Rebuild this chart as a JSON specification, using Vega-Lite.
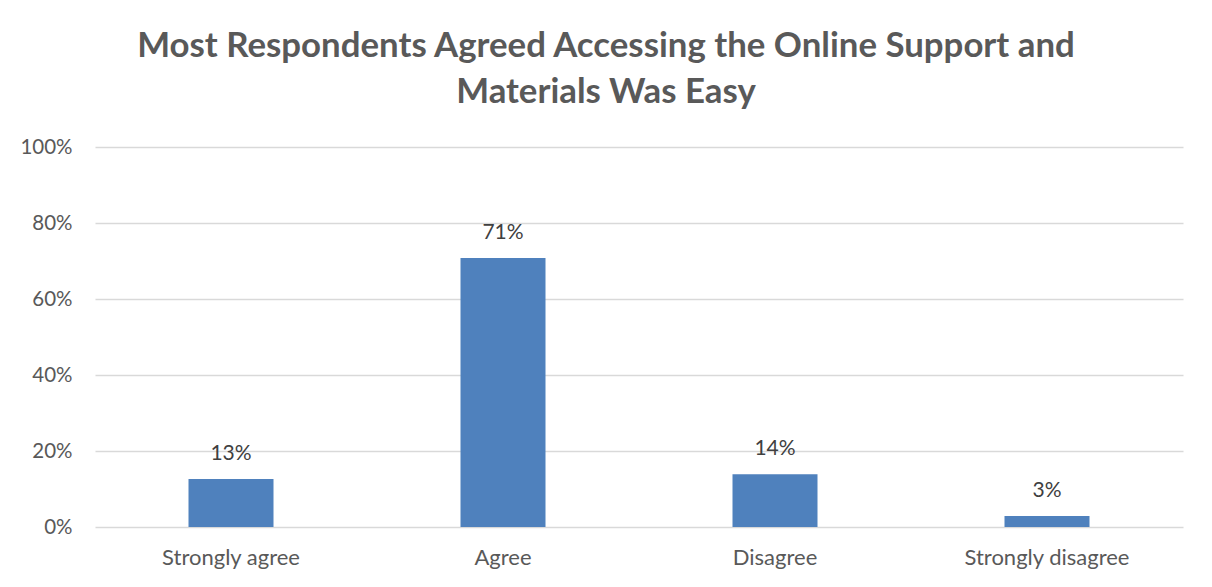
{
  "$schema": "https://vega.github.io/schema/vega-lite/v6.json",
  "width": 1088,
  "height": 380,
  "autosize": {"type": "none"},
  "padding": {"left": 95, "top": 147, "right": 29, "bottom": 60},
  "background": "white",
  "config": {"view": {"stroke": null}, "font": "Lato"},
  "title": {
    "text": ["Most Respondents Agreed Accessing the Online Support and", "Materials Was Easy"],
    "font": "Lato",
    "fontSize": 34.8,
    "fontWeight": "bold",
    "color": "#595959",
    "lineHeight": 46,
    "anchor": "middle",
    "dx": -33,
    "offset": 26
  },
  "data": {
    "values": [
      {"response": "Strongly agree", "pct": 0.126},
      {"response": "Agree", "pct": 0.708},
      {"response": "Disagree", "pct": 0.139},
      {"response": "Strongly disagree", "pct": 0.029}
    ]
  },
  "encoding": {
    "x": {
      "field": "response",
      "type": "nominal",
      "sort": null,
      "scale": {"paddingInner": 0.6875, "paddingOuter": 0.34375},
      "axis": {
        "title": null,
        "labelAngle": 0,
        "domain": false,
        "ticks": false,
        "labelPadding": 20,
        "labelFont": "Lato",
        "labelFontSize": 22,
        "labelColor": "#595959"
      }
    },
    "y": {
      "field": "pct",
      "type": "quantitative",
      "scale": {"domain": [0, 1]},
      "axis": {
        "title": null,
        "format": "0%",
        "values": [0, 0.2, 0.4, 0.6, 0.8, 1],
        "domain": false,
        "ticks": false,
        "labelPadding": 23,
        "labelFont": "Lato",
        "labelFontSize": 20.5,
        "labelColor": "#595959",
        "gridColor": "#d9d9d9",
        "gridWidth": 1.3
      }
    }
  },
  "layer": [
    {"mark": {"type": "bar", "color": "#4f81bd"}},
    {
      "mark": {"type": "text", "baseline": "bottom", "dy": -15, "fontSize": 21, "font": "Lato", "color": "#404040"},
      "encoding": {"text": {"field": "pct", "type": "quantitative", "format": ".0%"}}
    }
  ]
}
